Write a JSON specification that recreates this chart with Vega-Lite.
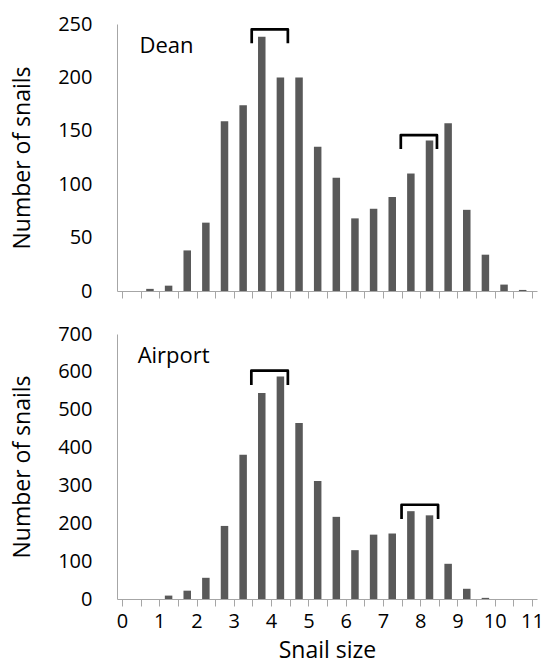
{
  "$schema": "https://vega.github.io/schema/vega-lite/v6.json",
  "padding": {"left": 10, "top": 14, "right": 10, "bottom": 5},
  "bounds": "flush",
  "spacing": 43,
  "config": {
    "font": "Open Sans",
    "view": {"stroke": null},
    "axis": {
      "domainColor": "#a6a6a6", "tickColor": "#a6a6a6", "domainWidth": 1, "tickWidth": 1,
      "labelColor": "#000", "titleColor": "#000",
      "labelFont": "Open Sans", "titleFont": "Open Sans",
      "labelFontSize": 20, "titleFontSize": 23, "titleFontWeight": "normal", "grid": false,
      "labelOverlap": false
    }
  },
  "datasets": {
    "counts": [
      {"site": "Dean", "size": 0.25, "count": 0},
      {"site": "Dean", "size": 0.75, "count": 2},
      {"site": "Dean", "size": 1.25, "count": 5},
      {"site": "Dean", "size": 1.75, "count": 38},
      {"site": "Dean", "size": 2.25, "count": 64},
      {"site": "Dean", "size": 2.75, "count": 159},
      {"site": "Dean", "size": 3.25, "count": 174},
      {"site": "Dean", "size": 3.75, "count": 238},
      {"site": "Dean", "size": 4.25, "count": 200},
      {"site": "Dean", "size": 4.75, "count": 200},
      {"site": "Dean", "size": 5.25, "count": 135},
      {"site": "Dean", "size": 5.75, "count": 106},
      {"site": "Dean", "size": 6.25, "count": 68},
      {"site": "Dean", "size": 6.75, "count": 77},
      {"site": "Dean", "size": 7.25, "count": 88},
      {"site": "Dean", "size": 7.75, "count": 110},
      {"site": "Dean", "size": 8.25, "count": 141},
      {"site": "Dean", "size": 8.75, "count": 157},
      {"site": "Dean", "size": 9.25, "count": 76},
      {"site": "Dean", "size": 9.75, "count": 34},
      {"site": "Dean", "size": 10.25, "count": 6},
      {"site": "Dean", "size": 10.75, "count": 1},
      {"site": "Airport", "size": 0.25, "count": 0},
      {"site": "Airport", "size": 0.75, "count": 0},
      {"site": "Airport", "size": 1.25, "count": 9},
      {"site": "Airport", "size": 1.75, "count": 22},
      {"site": "Airport", "size": 2.25, "count": 56},
      {"site": "Airport", "size": 2.75, "count": 193},
      {"site": "Airport", "size": 3.25, "count": 381},
      {"site": "Airport", "size": 3.75, "count": 544},
      {"site": "Airport", "size": 4.25, "count": 588},
      {"site": "Airport", "size": 4.75, "count": 465},
      {"site": "Airport", "size": 5.25, "count": 312},
      {"site": "Airport", "size": 5.75, "count": 217},
      {"site": "Airport", "size": 6.25, "count": 129},
      {"site": "Airport", "size": 6.75, "count": 170},
      {"site": "Airport", "size": 7.25, "count": 173},
      {"site": "Airport", "size": 7.75, "count": 232},
      {"site": "Airport", "size": 8.25, "count": 221},
      {"site": "Airport", "size": 8.75, "count": 93},
      {"site": "Airport", "size": 9.25, "count": 27},
      {"site": "Airport", "size": 9.75, "count": 3},
      {"site": "Airport", "size": 10.25, "count": 0},
      {"site": "Airport", "size": 10.75, "count": 0}
    ],
    "brackets": [
      {"site": "Dean", "bracket": "a", "pt": 1, "x": 3.48, "y": 232},
      {"site": "Dean", "bracket": "a", "pt": 2, "x": 3.48, "y": 245},
      {"site": "Dean", "bracket": "a", "pt": 3, "x": 4.45, "y": 245},
      {"site": "Dean", "bracket": "a", "pt": 4, "x": 4.45, "y": 232},
      {"site": "Dean", "bracket": "b", "pt": 1, "x": 7.48, "y": 133},
      {"site": "Dean", "bracket": "b", "pt": 2, "x": 7.48, "y": 146},
      {"site": "Dean", "bracket": "b", "pt": 3, "x": 8.45, "y": 146},
      {"site": "Dean", "bracket": "b", "pt": 4, "x": 8.45, "y": 133},
      {"site": "Airport", "bracket": "a", "pt": 1, "x": 3.47, "y": 565},
      {"site": "Airport", "bracket": "a", "pt": 2, "x": 3.47, "y": 603},
      {"site": "Airport", "bracket": "a", "pt": 3, "x": 4.45, "y": 603},
      {"site": "Airport", "bracket": "a", "pt": 4, "x": 4.45, "y": 565},
      {"site": "Airport", "bracket": "b", "pt": 1, "x": 7.5, "y": 211},
      {"site": "Airport", "bracket": "b", "pt": 2, "x": 7.5, "y": 249},
      {"site": "Airport", "bracket": "b", "pt": 3, "x": 8.48, "y": 249},
      {"site": "Airport", "bracket": "b", "pt": 4, "x": 8.48, "y": 211}
    ],
    "labels": [
      {"site": "Dean", "label": "Dean", "x": 0.47, "y": 223},
      {"site": "Airport", "label": "Airport", "x": 0.42, "y": 624}
    ]
  },
  "vconcat": [
    {
      "width": 420,
      "height": 267,
      "layer": [
        {
          "data": {"name": "counts"},
          "transform": [{"filter": "datum.site === 'Dean'"}],
          "mark": {"type": "bar", "width": 7.5, "color": "#595959"},
          "encoding": {
            "x": {"field": "size", "type": "quantitative", "scale": {"domain": [0, 11], "nice": false},
              "axis": {"title": null, "labels": false, "tickSize": 7, "values": [0,0.5,1,1.5,2,2.5,3,3.5,4,4.5,5,5.5,6,6.5,7,7.5,8,8.5,9,9.5,10,10.5,11]}},
            "y": {"field": "count", "type": "quantitative", "scale": {"domain": [0, 250], "nice": false},
              "axis": {"title": "Number of snails", "ticks": false, "tickSize": 0, "labelPadding": 25, "values": [0,50,100,150,200,250], "titleX": -88, "titleBaseline": "alphabetic"}}
          }
        },
        {
          "data": {"name": "brackets"},
          "transform": [{"filter": "datum.site === 'Dean'"}],
          "mark": {"type": "line", "color": "#000", "strokeWidth": 2.7, "strokeJoin": "round", "strokeCap": "butt"},
          "encoding": {
            "x": {"field": "x", "type": "quantitative",
              "axis": {"title": null, "labels": false, "tickSize": 7, "values": [0,0.5,1,1.5,2,2.5,3,3.5,4,4.5,5,5.5,6,6.5,7,7.5,8,8.5,9,9.5,10,10.5,11]}},
            "y": {"field": "y", "type": "quantitative",
              "axis": {"title": "Number of snails", "ticks": false, "tickSize": 0, "labelPadding": 25, "values": [0,50,100,150,200,250], "titleX": -88, "titleBaseline": "alphabetic"}},
            "detail": {"field": "bracket"},
            "order": {"field": "pt"}
          }
        },
        {
          "data": {"name": "labels"},
          "transform": [{"filter": "datum.site === 'Dean'"}],
          "mark": {"type": "text", "align": "left", "baseline": "alphabetic", "fontSize": 22, "font": "Open Sans", "color": "#000"},
          "encoding": {
            "x": {"field": "x", "type": "quantitative",
              "axis": {"title": null, "labels": false, "tickSize": 7, "values": [0,0.5,1,1.5,2,2.5,3,3.5,4,4.5,5,5.5,6,6.5,7,7.5,8,8.5,9,9.5,10,10.5,11]}},
            "y": {"field": "y", "type": "quantitative",
              "axis": {"title": "Number of snails", "ticks": false, "tickSize": 0, "labelPadding": 25, "values": [0,50,100,150,200,250], "titleX": -88, "titleBaseline": "alphabetic"}},
            "text": {"field": "label"}
          }
        }
      ]
    },
    {
      "width": 420,
      "height": 265,
      "layer": [
        {
          "data": {"name": "counts"},
          "transform": [{"filter": "datum.site === 'Airport'"}],
          "mark": {"type": "bar", "width": 7.5, "color": "#595959"},
          "encoding": {
            "x": {"field": "size", "type": "quantitative", "scale": {"domain": [0, 11], "nice": false},
              "axis": {"title": "Snail size", "tickSize": 7, "labelPadding": 5, "labelExpr": "datum.value % 1 === 0 ? format(datum.value, 'd') : ''", "labelFlush": false, "titleY": 58, "titleBaseline": "alphabetic", "values": [0,0.5,1,1.5,2,2.5,3,3.5,4,4.5,5,5.5,6,6.5,7,7.5,8,8.5,9,9.5,10,10.5,11]}},
            "y": {"field": "count", "type": "quantitative", "scale": {"domain": [0, 700], "nice": false},
              "axis": {"title": "Number of snails", "ticks": false, "tickSize": 0, "labelPadding": 25, "values": [0,100,200,300,400,500,600,700], "titleX": -88, "titleBaseline": "alphabetic"}}
          }
        },
        {
          "data": {"name": "brackets"},
          "transform": [{"filter": "datum.site === 'Airport'"}],
          "mark": {"type": "line", "color": "#000", "strokeWidth": 2.7, "strokeJoin": "round", "strokeCap": "butt"},
          "encoding": {
            "x": {"field": "x", "type": "quantitative",
              "axis": {"title": "Snail size", "tickSize": 7, "labelPadding": 5, "labelExpr": "datum.value % 1 === 0 ? format(datum.value, 'd') : ''", "labelFlush": false, "titleY": 58, "titleBaseline": "alphabetic", "values": [0,0.5,1,1.5,2,2.5,3,3.5,4,4.5,5,5.5,6,6.5,7,7.5,8,8.5,9,9.5,10,10.5,11]}},
            "y": {"field": "y", "type": "quantitative",
              "axis": {"title": "Number of snails", "ticks": false, "tickSize": 0, "labelPadding": 25, "values": [0,100,200,300,400,500,600,700], "titleX": -88, "titleBaseline": "alphabetic"}},
            "detail": {"field": "bracket"},
            "order": {"field": "pt"}
          }
        },
        {
          "data": {"name": "labels"},
          "transform": [{"filter": "datum.site === 'Airport'"}],
          "mark": {"type": "text", "align": "left", "baseline": "alphabetic", "fontSize": 22, "font": "Open Sans", "color": "#000"},
          "encoding": {
            "x": {"field": "x", "type": "quantitative",
              "axis": {"title": "Snail size", "tickSize": 7, "labelPadding": 5, "labelExpr": "datum.value % 1 === 0 ? format(datum.value, 'd') : ''", "labelFlush": false, "titleY": 58, "titleBaseline": "alphabetic", "values": [0,0.5,1,1.5,2,2.5,3,3.5,4,4.5,5,5.5,6,6.5,7,7.5,8,8.5,9,9.5,10,10.5,11]}},
            "y": {"field": "y", "type": "quantitative",
              "axis": {"title": "Number of snails", "ticks": false, "tickSize": 0, "labelPadding": 25, "values": [0,100,200,300,400,500,600,700], "titleX": -88, "titleBaseline": "alphabetic"}},
            "text": {"field": "label"}
          }
        }
      ]
    }
  ]
}
